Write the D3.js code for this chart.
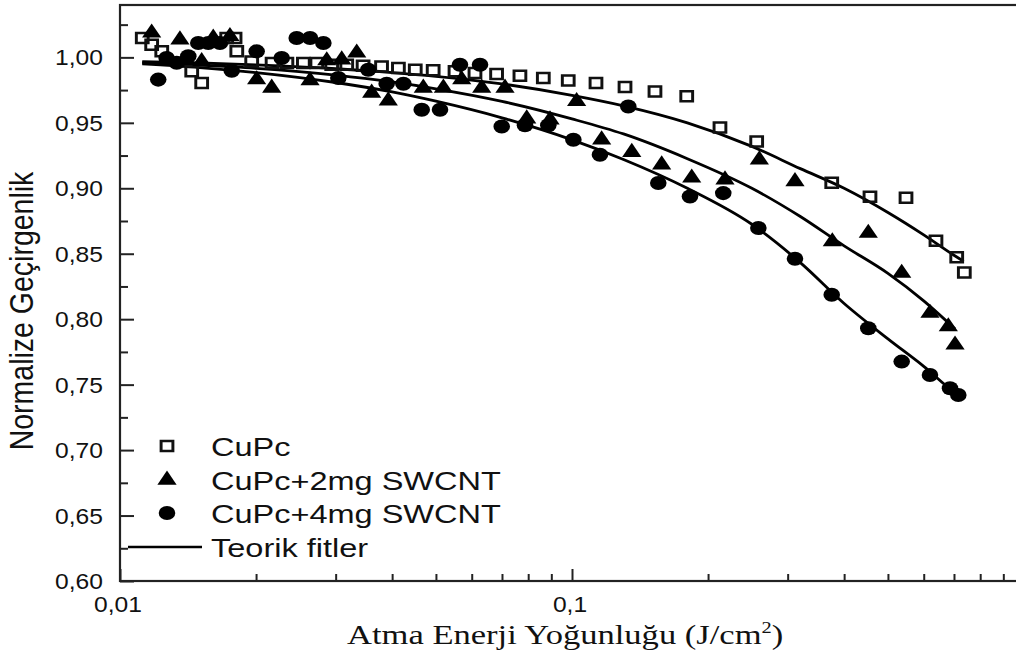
<!DOCTYPE html>
<html>
<head>
<meta charset="utf-8">
<script src="https://cdn.jsdelivr.net/npm/d3@7"></script>
<style>
  body { margin: 0; background: #fff; }
  svg { display: block; }
  text { fill: #111; }
</style>
</head>
<body>
<div id="chart"></div>
<script>
// measured data (J/cm2 vs normalized transmittance)
const cupcE = [0.0112, 0.01175, 0.01237, 0.01441, 0.01516, 0.01722, 0.01797, 0.01813, 0.01956, 0.0217,
  0.0234, 0.02545, 0.02725, 0.0294, 0.03174, 0.0345, 0.0379, 0.0413, 0.045, 0.0493, 0.0551, 0.061,
  0.0681, 0.0767, 0.0864, 0.0981, 0.113, 0.131, 0.1526, 0.1794, 0.2125, 0.2562, 0.3755, 0.4563,
  0.5482, 0.6386, 0.7098, 0.7378];
const cupcT = [1.0148, 1.0097, 1.0046, 0.9893, 0.9804, 1.0148, 1.0148, 1.0046, 0.9969, 0.9957,
  0.9957, 0.9957, 0.9957, 0.9944, 0.9944, 0.9935, 0.9931, 0.9919, 0.9906, 0.9901, 0.9893, 0.9881,
  0.9873, 0.986, 0.9843, 0.9824, 0.9804, 0.9774, 0.974, 0.9702, 0.9465, 0.9358, 0.9042, 0.8935,
  0.8927, 0.8599, 0.8474, 0.8356];

const cnt2E = [0.01175, 0.01357, 0.01516, 0.01608, 0.01751, 0.02006, 0.02166, 0.02633, 0.02867, 0.03094,
  0.0334, 0.03604, 0.03922, 0.04688, 0.05193, 0.05702, 0.06313, 0.07109, 0.0794, 0.08941, 0.1024,
  0.1163, 0.1356, 0.1579, 0.184, 0.218, 0.2597, 0.3114, 0.3766, 0.4524, 0.5363, 0.6194, 0.6801, 0.7037];
const cnt2T = [1.0187, 1.0135, 0.9969, 1.0148, 1.0161, 0.983, 0.9766, 0.9822, 0.9975, 0.9982,
  1.0034, 0.9728, 0.9669, 0.9766, 0.9766, 0.983, 0.9766, 0.9766, 0.9531, 0.9524, 0.9664,
  0.9371, 0.9275, 0.918, 0.908, 0.9065, 0.9218, 0.9052, 0.8593, 0.8658, 0.8352, 0.8046, 0.7943, 0.7804];

const cnt4E = [0.01215, 0.01268, 0.01335, 0.01416, 0.0149, 0.01568, 0.01664, 0.01767, 0.02006, 0.02279,
  0.0246, 0.02633, 0.02818, 0.03041, 0.03542, 0.0389, 0.04236, 0.04651, 0.05105, 0.05651, 0.06259,
  0.06991, 0.0787, 0.08864, 0.1007, 0.1153, 0.1332, 0.1552, 0.1824, 0.2161, 0.2584, 0.3114, 0.3755,
  0.4524, 0.5363, 0.6194, 0.686, 0.7156];
const cnt4T = [0.983, 0.9995, 0.9959, 1.0008, 1.011, 1.011, 1.011, 0.9898, 1.0046, 0.9995,
  1.0148, 1.0148, 1.011, 0.9843, 0.9906, 0.9799, 0.9799, 0.96, 0.96, 0.9944, 0.9944,
  0.9472, 0.9482, 0.9482, 0.9371, 0.9256, 0.9625, 0.904, 0.8937, 0.8963, 0.8696, 0.8461, 0.8186,
  0.7931, 0.7676, 0.7574, 0.7472, 0.7421];

// theoretical fit curves
const fitCupcE = [0.0112, 0.015, 0.02, 0.03, 0.04, 0.05, 0.07, 0.1, 0.13, 0.18, 0.25, 0.32, 0.4, 0.5, 0.6, 0.7, 0.735];
const fitCupcT = [0.9967, 0.9957, 0.9942, 0.9913, 0.9884, 0.9855, 0.9797, 0.971, 0.963, 0.95, 0.932, 0.915, 0.9, 0.8815, 0.8644, 0.8488, 0.8442];
const fit2E = [0.0112, 0.015, 0.02, 0.03, 0.04, 0.05, 0.07, 0.1, 0.13, 0.18, 0.25, 0.32, 0.4, 0.5, 0.6, 0.704];
const fit2T = [0.9959, 0.994, 0.9916, 0.9865, 0.9812, 0.976, 0.9664, 0.953, 0.9415, 0.9226, 0.9, 0.8784, 0.856, 0.835, 0.814, 0.7925];
const fit4E = [0.0112, 0.015, 0.02, 0.03, 0.04, 0.05, 0.07, 0.1, 0.13, 0.18, 0.25, 0.32, 0.4, 0.5, 0.6, 0.7, 0.735];
const fit4T = [0.995, 0.9922, 0.9884, 0.9808, 0.9736, 0.9665, 0.9538, 0.937, 0.922, 0.9, 0.8725, 0.8432, 0.812, 0.785, 0.764, 0.7445, 0.74];

const yMajor = [0.60, 0.65, 0.70, 0.75, 0.80, 0.85, 0.90, 0.95, 1.00];
const yMinor = [0.625, 0.675, 0.725, 0.775, 0.825, 0.875, 0.925, 0.975, 1.025];
const xMajor = [0.01, 0.1];
const xMinor = [0.02, 0.03, 0.04, 0.05, 0.06, 0.07, 0.08, 0.09, 0.2, 0.3, 0.4, 0.5, 0.6, 0.7, 0.8, 0.9];
const legendLabels = ["CuPc", "CuPc+2mg SWCNT", "CuPc+4mg SWCNT", "Teorik fitler"];

const width = 1016, height = 658;
const margin = { left: 120, top: 5, bottom: 77 };

const x = d3.scaleLog().domain([0.01, 1]).range([margin.left, 1024]);
const y = d3.scaleLinear().domain([0.60, 1.04]).range([height - margin.bottom, margin.top]);

const comma = d3.formatLocale({ decimal: ",", thousands: ".", grouping: [3], currency: ["", ""] });
const fmtY = comma.format(".2f");

const svg = d3.select("#chart").append("svg")
  .attr("width", width).attr("height", height)
  .attr("viewBox", [0, 0, width, height]);

const sans = "Arial, 'Liberation Sans', sans-serif";
const serif = "'Times New Roman', 'Liberation Serif', serif";

// the original figure is slightly stretched sideways, so text is too
function label(g, txt, px, py, opts) {
  return g.append("text")
    .attr("transform", `translate(${px},${py}) scale(${opts.sx || 1},1)${opts.rotate ? " rotate(" + opts.rotate + ")" : ""}`)
    .attr("text-anchor", opts.anchor || "start")
    .attr("font-family", opts.font || sans)
    .attr("font-size", opts.size)
    .text(txt);
}

// axes
const axisColor = "#222";
const gx = svg.append("g").attr("transform", `translate(0,${y(0.60)})`);
gx.call(d3.axisBottom(x).tickValues(xMajor).tickSize(-12).tickFormat(""));
gx.append("g").call(d3.axisBottom(x).tickValues(xMinor).tickSize(-7).tickFormat(""));
const gy = svg.append("g").attr("transform", `translate(${x(0.01)},0)`);
gy.call(d3.axisLeft(y).tickValues(yMajor).tickSize(-14).tickFormat(""));
gy.append("g").call(d3.axisLeft(y).tickValues(yMinor).tickSize(-8).tickFormat(""));
svg.selectAll(".domain").remove();
svg.selectAll(".tick line").attr("stroke", axisColor).attr("stroke-width", 2);

// frame
svg.append("rect")
  .attr("x", x(0.01)).attr("y", y(1.04))
  .attr("width", x(1) - x(0.01)).attr("height", y(0.60) - y(1.04))
  .attr("fill", "none").attr("stroke", axisColor).attr("stroke-width", 2.2);

// tick labels
const labels = svg.append("g");
yMajor.forEach(v => label(labels, fmtY(v), 103, y(v) + 8, { anchor: "end", size: 22, sx: 1.12 }));
xMajor.forEach(v => label(labels, v === 0.01 ? "0,01" : "0,1", x(v) - 2, 612, { anchor: "middle", size: 22, sx: 1.12 }));

// axis titles
label(svg, "Normalize Geçirgenlik", 33, 311, { anchor: "middle", size: 28.5, sx: 1.15, rotate: -90 });
const xt = label(svg, "Atma Enerji Yoğunluğu (J/cm", 347, 644, { anchor: "start", size: 27, sx: 1.28, font: serif });
xt.append("tspan").attr("font-size", 16).attr("dy", -11).text("2");
xt.append("tspan").attr("dy", 11).text(")");

// fit lines
const line = d3.line()
  .x(d => x(d[0])).y(d => y(d[1]))
  .curve(d3.curveMonotoneX);
const fits = [[fitCupcE, fitCupcT], [fit2E, fit2T], [fit4E, fit4T]];
svg.append("g")
  .selectAll("path")
  .data(fits.map(([e, t]) => d3.zip(e, t)))
  .join("path")
  .attr("d", line)
  .attr("fill", "none")
  .attr("stroke", "#000")
  .attr("stroke-width", 2.8);

// markers
const sq = d3.symbol(d3.symbolSquare, 100)();
const tri = d3.symbol(d3.symbolTriangle, 115)();
const circ = d3.symbol(d3.symbolCircle, 155)();
const series = [
  { e: cupcE, t: cupcT, path: sq, fill: "none", stroke: "#111", sw: 2.5 },
  { e: cnt2E, t: cnt2T, path: tri, fill: "#000", stroke: "none", sw: 0 },
  { e: cnt4E, t: cnt4T, path: circ, fill: "#000", stroke: "none", sw: 0 }
];
const markSx = 1.18;
series.forEach(s => {
  svg.append("g")
    .selectAll("path")
    .data(d3.zip(s.e, s.t))
    .join("path")
    .attr("d", s.path)
    .attr("transform", d => `translate(${x(d[0])},${y(d[1])}) scale(${markSx},1)`)
    .attr("fill", s.fill)
    .attr("stroke", s.stroke)
    .attr("stroke-width", s.sw);
});

// legend
const legend = svg.append("g");
const rowY = [446, 480, 513, 547];
series.forEach((s, i) => {
  legend.append("path")
    .attr("d", s.path)
    .attr("transform", `translate(167,${rowY[i]}) scale(${markSx},1)`)
    .attr("fill", s.fill)
    .attr("stroke", s.stroke)
    .attr("stroke-width", s.sw);
});
legend.append("line")
  .attr("x1", 128).attr("x2", 202)
  .attr("y1", rowY[3]).attr("y2", rowY[3])
  .attr("stroke", "#000").attr("stroke-width", 2.6);
legendLabels.forEach((t, i) => label(legend, t, 211, rowY[i] + 9.5, { size: 26, sx: 1.25 }));
</script>
</body>
</html>
